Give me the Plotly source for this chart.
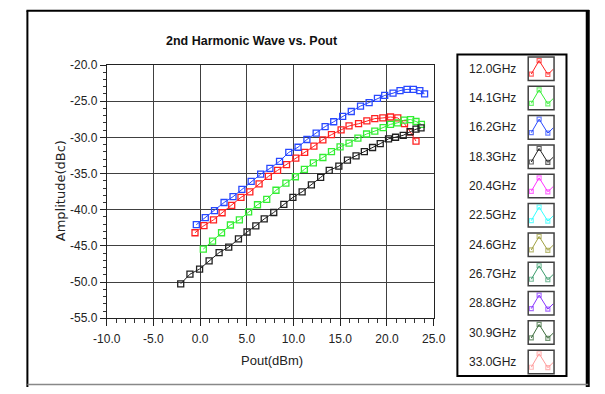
import plotly.graph_objects as go

# ---------------- data ----------------
x_12_0 = [-0.55, 0.41, 1.43, 2.35, 3.38, 4.37, 5.32, 6.31, 7.30, 8.29, 9.25, 10.24, 11.19, 12.18,
          13.14, 14.06, 15.09, 15.94, 16.96, 17.85, 18.70, 19.56, 20.38, 21.16, 21.88, 22.49, 23.11]
y_12_0 = [-43.18, -42.2, -41.4, -40.42, -39.4, -38.29, -37.53, -36.42, -35.4, -34.56, -33.76, -32.87,
          -32.07, -31.22, -30.33, -29.62, -28.96, -28.42, -28.11, -27.71, -27.4, -27.31, -27.18,
          -27.31, -28.11, -29.22, -30.51]

x_14_1 = [0.34, 1.33, 2.29, 3.24, 4.20, 5.19, 6.14, 7.13, 8.12, 9.18, 10.20, 11.16, 12.12, 13.14,
          14.06, 14.98, 15.94, 16.89, 17.82, 18.70, 19.59, 20.38, 21.13, 21.84, 22.53, 23.11, 23.69]
y_14_1 = [-45.44, -44.33, -43.18, -42.11, -41.4, -40.29, -39.31, -38.56, -37.31, -36.33, -35.44,
          -34.42, -33.53, -32.78, -31.98, -31.31, -30.78, -30.11, -29.53, -29.13, -28.64, -28.2,
          -27.98, -27.62, -27.53, -27.8, -28.2]

x_16_2 = [-0.41, 0.55, 1.54, 2.56, 3.52, 4.47, 5.46, 6.48, 7.47, 8.50, 9.49, 10.48, 11.43, 12.42,
          13.38, 14.30, 15.26, 16.18, 17.17, 18.09, 18.98, 19.76, 20.65, 21.40, 22.15, 22.83,
          23.52, 24.03]
y_16_2 = [-42.07, -41.09, -40.11, -39.0, -38.2, -37.18, -36.07, -35.09, -34.29, -33.31, -32.07,
          -31.36, -30.29, -29.4, -28.51, -27.84, -27.09, -26.42, -25.67, -25.18, -24.6, -24.2,
          -23.89, -23.53, -23.36, -23.36, -23.53, -23.98]

x_18_3 = [-2.08, -1.09, -0.06, 0.96, 2.03, 3.06, 4.10, 5.02, 5.96, 6.86, 7.88, 8.96, 9.93, 10.92,
          11.91, 12.90, 13.82, 14.85, 15.77, 16.69, 17.58, 18.46, 19.28, 20.17, 20.92, 21.74,
          22.49, 23.11, 23.65]
y_18_3 = [-50.24, -48.91, -48.2, -47.08, -45.93, -45.17, -44.02, -43.08, -42.22, -41.27, -40.38,
          -39.27, -38.29, -37.53, -36.56, -35.53, -34.56, -33.98, -33.13, -32.56, -31.98, -31.4,
          -30.87, -30.2, -29.98, -29.71, -29.22, -28.87, -28.69]

legend_labels = ["12.0GHz", "14.1GHz", "16.2GHz", "18.3GHz", "20.4GHz", "22.5GHz",
                 "24.6GHz", "26.7GHz", "28.8GHz", "30.9GHz", "33.0GHz"]
legend_colors = ["#ff2020", "#33ee33", "#2848ff", "#202020", "#ff33ff", "#33ffff",
                 "#a0a040", "#3c9c6c", "#8833ff", "#3c6c3c", "#ff9999"]

x_tickvals = [-10, -5, 0, 5, 10, 15, 20, 25]
x_ticktext = ["-10.0", "-5.0", "0.0", "5.0", "10.0", "15.0", "20.0", "25.0"]
y_tickvals = [-20, -25, -30, -35, -40, -45, -50, -55]
y_ticktext = ["-20.0", "-25.0", "-30.0", "-35.0", "-40.0", "-45.0", "-50.0", "-55.0"]

title_text = "2nd Harmonic Wave vs. Pout"
x_title = "Pout(dBm)"
y_title = "Amplitude(dBc)"

# ---------------- figure ----------------
W, H = 605, 394
FONT = "Liberation Sans, Arial, sans-serif"

def px(x):
    return x / W

def py(y):
    return 1 - y / H

fig = go.Figure()

series = [(x_12_0, y_12_0, legend_colors[0], legend_labels[0]),
          (x_14_1, y_14_1, legend_colors[1], legend_labels[1]),
          (x_16_2, y_16_2, legend_colors[2], legend_labels[2]),
          (x_18_3, y_18_3, legend_colors[3], legend_labels[3])]

for xs, ys, col, name in series:
    fig.add_trace(go.Scatter(
        x=xs, y=ys, mode="lines+markers", name=name,
        line=dict(color=col, width=1),
        marker=dict(symbol="square-open", size=6, color=col, line=dict(width=1.3, color=col)),
        xaxis="x", yaxis="y", showlegend=False,
    ))

# ---------------- custom legend (own axes in pixel units) ----------------
LEG_X0, LEG_X1, LEG_Y0, LEG_Y1 = 463.3, 577.3, 49.3, 382.7
row0, row_step = 64.0, 30.4
annotations = []
shapes = []
for i, (lab, col) in enumerate(zip(legend_labels, legend_colors)):
    cy = row0 + row_step * i
    fig.add_trace(go.Scatter(
        x=[540.5, 548.7, 557.8, 563.5], y=[cy + 5.5, cy - 8.5, cy + 6, cy + 0.5],
        mode="lines+markers", line=dict(color=col, width=1),
        marker=dict(symbol="square-open", size=[4, 4, 4, 0], color=col, line=dict(width=1.2, color=col)),
        xaxis="x2", yaxis="y2", showlegend=False, hoverinfo="skip",
    ))
    shapes.append(dict(type="rect", xref="x2", yref="y2", x0=537.3, x1=564.3,
                       y0=cy - 12.2, y1=cy + 12.2, line=dict(color="#404040", width=1.5)))
    annotations.append(dict(xref="x2", yref="y2", x=526.5, y=cy, text=lab, showarrow=False,
                            xanchor="right", yanchor="middle",
                            font=dict(family=FONT, size=12, color="#222")))

shapes.append(dict(type="rect", xref="x2 domain", yref="y2 domain", x0=0, x1=1, y0=0, y1=1,
                   line=dict(color="#000", width=2)))

# outer frame
shapes += [
    dict(type="line", xref="paper", yref="paper", x0=px(14), x1=px(14), y0=py(4), y1=py(394),
         line=dict(color="#000", width=2)),
    dict(type="line", xref="paper", yref="paper", x0=px(13), x1=px(601), y0=py(4), y1=py(4),
         line=dict(color="#000", width=2)),
    dict(type="line", xref="paper", yref="paper", x0=px(599.5), x1=px(599.5), y0=py(3), y1=py(394),
         line=dict(color="#000", width=4)),
    dict(type="line", xref="paper", yref="paper", x0=px(14), x1=px(600), y0=py(391.5), y1=py(391.5),
         line=dict(color="#888", width=1.5)),
]

annotations += [
    dict(xref="paper", yref="paper", x=px(249), y=py(35), text="<b>" + title_text + "</b>",
         showarrow=False, xanchor="center", yanchor="middle",
         font=dict(family=FONT, size=12.5, color="#111")),
    dict(xref="paper", yref="paper", x=px(270), y=py(366.5), text=x_title,
         showarrow=False, xanchor="center", yanchor="middle",
         font=dict(family=FONT, size=13, color="#222")),
    dict(xref="paper", yref="paper", x=px(48), y=py(190), text=y_title, textangle=-90,
         showarrow=False, xanchor="center", yanchor="middle",
         font=dict(family="DejaVu Sans, sans-serif", size=13, color="#222")),
]

GRID = "#404040"
fig.update_layout(
    width=W, height=H, autosize=False,
    margin=dict(l=0, r=0, t=0, b=0),
    paper_bgcolor="white", plot_bgcolor="white",
    xaxis=dict(
        domain=[px(96.9), px(438.5)], range=[-10, 25], anchor="y",
        tickvals=x_tickvals, ticktext=x_ticktext,
        ticks="outside", ticklen=7, tickwidth=1, tickcolor="#222",
        tickfont=dict(family=FONT, size=12, color="#222"),
        ticklabelstandoff=2,
        showgrid=True, gridcolor=GRID, gridwidth=1.2,
        showline=True, linecolor="#222", linewidth=1, mirror=True,
        zeroline=False,
        minor=dict(dtick=1, ticks="outside", ticklen=4, tickcolor="#333", tickwidth=1, showgrid=False),
    ),
    yaxis=dict(
        domain=[py(322.7), py(60.2)], range=[-55, -20], anchor="x",
        tickvals=y_tickvals, ticktext=y_ticktext,
        ticks="outside", ticklen=6, tickwidth=1, tickcolor="#222",
        tickfont=dict(family=FONT, size=12, color="#222"),
        showgrid=True, gridcolor=GRID, gridwidth=1.2,
        showline=True, linecolor="#222", linewidth=1, mirror=True,
        zeroline=False,
        minor=dict(dtick=1, ticks="outside", ticklen=3, tickcolor="#333", tickwidth=1, showgrid=False),
    ),
    xaxis2=dict(domain=[px(LEG_X0), px(LEG_X1)], range=[LEG_X0, LEG_X1], anchor="y2",
                visible=False, fixedrange=True),
    yaxis2=dict(domain=[py(LEG_Y1), py(LEG_Y0)], range=[LEG_Y1, LEG_Y0], anchor="x2",
                visible=False, fixedrange=True),
    shapes=shapes,
    annotations=annotations,
    showlegend=False,
)

fig.write_html(
    "out.html",
    config={"displayModeBar": False},
    post_script="document.body.style.margin='0px';document.body.style.padding='0px';"
                "document.documentElement.style.overflow='hidden';",
)
